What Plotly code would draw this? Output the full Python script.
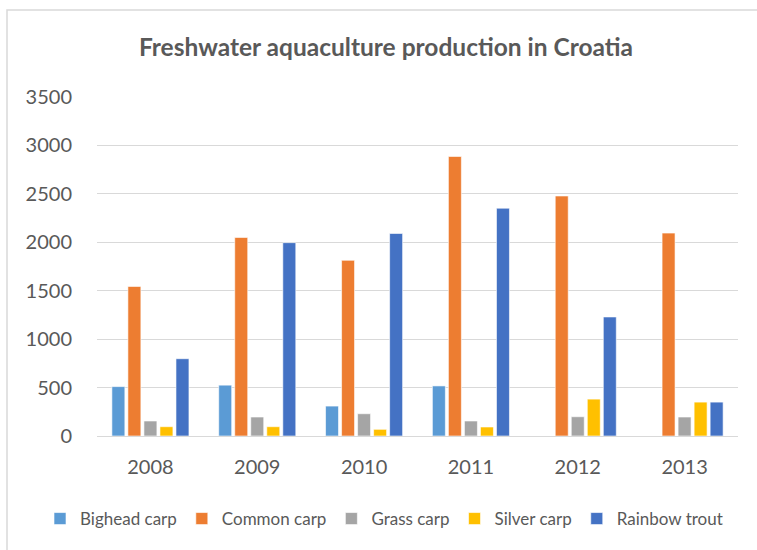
import plotly.graph_objects as go

# Freshwater aquaculture production in Croatia (tonnes)
years = ["2008", "2009", "2010", "2011", "2012", "2013"]
bighead_carp = [510, 525, 309, 517, None, None]
common_carp = [1544, 2050, 1814, 2886, 2478, 2095]
grass_carp = [155, 196, 230, 155, 199, 196]
silver_carp = [96, 96, 69, 93, 381, 350]
rainbow_trout = [798, 1996, 2091, 2352, 1229, 350]

y_ticks = [0, 500, 1000, 1500, 2000, 2500, 3000, 3500]

series = [
    ("Bighead carp", bighead_carp, "#5B9BD5"),
    ("Common carp", common_carp, "#ED7D31"),
    ("Grass carp", grass_carp, "#A5A5A5"),
    ("Silver carp", silver_carp, "#FFC000"),
    ("Rainbow trout", rainbow_trout, "#4472C4"),
]

FONT = "Lato"
TEXT = "#595959"

# plot-area geometry in pixels, used to place the frame and legend
L, R, T, B = 97, 19, 97, 114
PW, PH = 757 - L - R, 550 - T - B

fig = go.Figure()
for name, values, color in series:
    fig.add_trace(go.Bar(
        x=years, y=values, name=name,
        marker=dict(color=color, line=dict(color="rgba(255,255,255,0.6)", width=1)),
    ))

fig.update_layout(
    width=757, height=550,
    paper_bgcolor="white", plot_bgcolor="white",
    margin=dict(l=L, r=R, t=T, b=B, autoexpand=False),
    barmode="group", bargap=0.25, bargroupgap=0.19,
    title=dict(
        text="<b>Freshwater aquaculture production in Croatia</b>",
        x=386 / 757, xanchor="center", xref="container",
        y=1 - 47 / 550, yanchor="middle", yref="container",
        font=dict(family=FONT, size=24.5, color=TEXT),
    ),
    font=dict(family=FONT, size=20, color=TEXT),
    legend=dict(
        orientation="h", xref="paper", x=(40 - L) / PW, xanchor="left",
        yref="paper", y=(PH + T - 519) / PH, yanchor="middle",
        font=dict(family=FONT, size=17, color=TEXT),
        itemwidth=30, tracegroupgap=0, bgcolor="rgba(0,0,0,0)",
    ),
    showlegend=True,
)

fig.update_xaxes(
    showline=True, linecolor="#D9D9D9", linewidth=1,
    ticks="", ticklabelstandoff=13,
    tickfont=dict(family=FONT, size=20, color=TEXT),
)
fig.update_yaxes(
    range=[0, 3500], tickvals=y_ticks, ticktext=[str(v) for v in y_ticks],
    showgrid=True, gridcolor="#D9D9D9", gridwidth=1,
    zeroline=False, showline=False, ticks="", ticklabelstandoff=24,
    tickfont=dict(family=FONT, size=20, color=TEXT),
)

# Light frame around the whole chart (open to the right and bottom edges)
fig.add_shape(
    type="rect", xref="paper", yref="paper",
    x0=(7 - L) / PW, x1=(770 - L) / PW,
    y0=(PH + T - 570) / PH, y1=(PH + T - 10) / PH,
    line=dict(color="#D9D9D9", width=1.5), fillcolor="rgba(0,0,0,0)",
    layer="below",
)

fig.write_html("out.html")
